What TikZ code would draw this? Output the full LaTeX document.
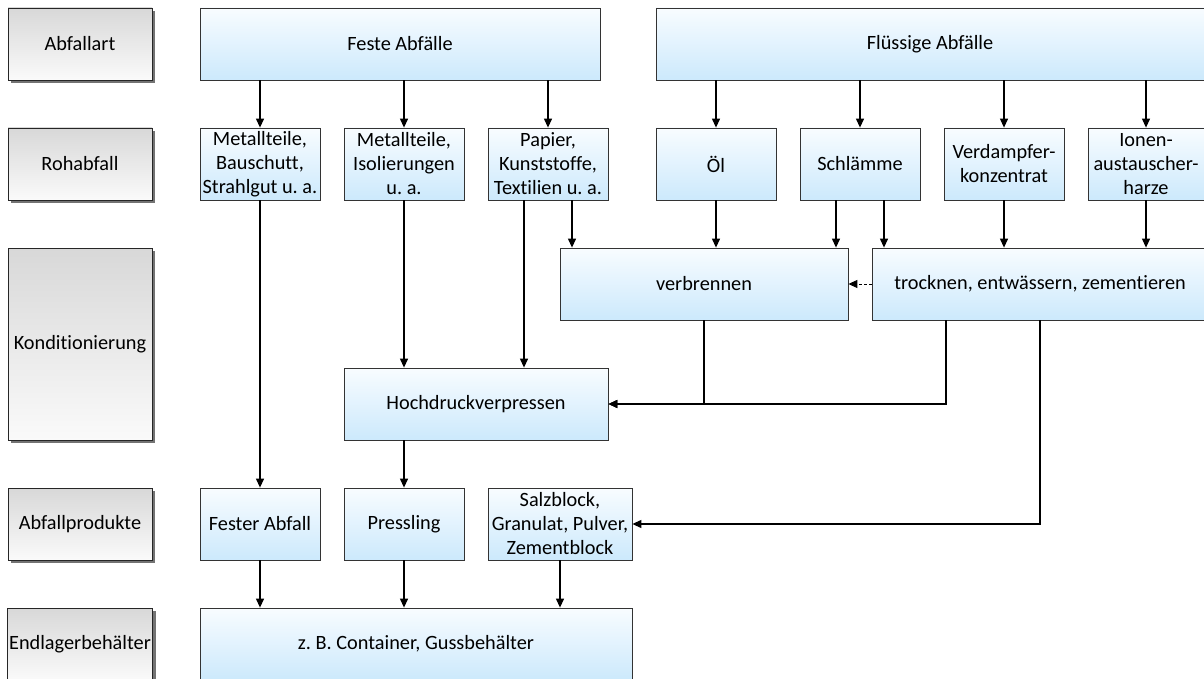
\documentclass[tikz,border=0pt]{standalone}
\usepackage{fontspec}
\setmainfont{Carlito}[Ligatures=NoCommon]
\frenchspacing
\usetikzlibrary{arrows.meta,shadows}
\definecolor{boxtop}{HTML}{F8FCFF}
\definecolor{boxbot}{HTML}{CCE9FC}
\definecolor{lbltop}{HTML}{D8D8D8}
\definecolor{lblbot}{HTML}{FAFAFA}
\tikzset{
  >={Triangle[length=9pt,width=8pt]},
  every node/.style={font=\fontsize{20.3}{24}\selectfont, align=center, inner sep=2pt},
  lbl/.style={draw=black!85, line width=0.8pt, top color=lbltop, bottom color=lblbot,
    minimum width=144pt, minimum height=72pt,
    drop shadow={shadow xshift=3pt, shadow yshift=-3pt, fill=black!55, opacity=1}},
  box/.style={draw=black!80, line width=0.8pt, top color=boxtop, bottom color=boxbot,
    minimum width=120pt, minimum height=72pt},
  flow/.style={->, line width=1.2pt},
}
\begin{document}
\begin{tikzpicture}[x=1pt,y=-1pt]
\useasboundingbox (0,0) rectangle (1204,679);
% left column
\node[lbl] (art) at (80,44) {Abfallart};
\node[lbl] (roh) at (80,164) {Rohabfall};
\node[lbl, minimum height=192pt] (kond) at (80,344) {Konditionierung};
\node[lbl] (prod) at (80,524) {Abfallprodukte};
\node[lbl] (endl) at (80,644) {Endlagerbehälter};
% waste types
\node[box, minimum width=400pt] (feste) at (400,44) {Feste Abfälle};
\node[box, minimum width=548pt] (fluessig) at (930,44) {Flüssige Abfälle};
% raw waste
\node[box] (metall) at (260,164) {Metallteile,\\Bauschutt,\\Strahlgut u. a.};
\node[box] (isol) at (404,164) {Metallteile,\\Isolierungen\\u. a.};
\node[box] (papier) at (548,164) {Papier,\\Kunststoffe,\\Textilien u. a.};
\node[box] (oel) at (716,164) {Öl};
\node[box] (schl) at (860,164) {Schlämme};
\node[box] (verd) at (1004,164) {Verdampfer-\\konzentrat};
\node[box, minimum width=116pt] (ionen) at (1146,164) {Ionen-\\austauscher-\\harze};
% conditioning
\node[box, minimum width=288pt] (verbr) at (704,284) {verbrennen};
\node[box, minimum width=336pt] (trock) at (1040,284) {trocknen, entwässern, zementieren};
\node[box, minimum width=264pt] (hoch) at (476,404) {Hochdruckverpressen};
% products
\node[box] (fester) at (260,524) {Fester Abfall};
\node[box] (press) at (404,524) {Pressling};
\node[box, minimum width=144pt] (salz) at (560,524) {Salzblock,\\Granulat, Pulver,\\Zementblock};
\node[box, minimum width=432pt] (cont) at (416,644) {z. B. Container, Gussbehälter};
% helper points on box edges
\coordinate (pa) at ([xshift=-24pt]papier.south);
\coordinate (pb) at ([xshift=24pt]papier.south);
\coordinate (sa) at ([xshift=-24pt]schl.south);
\coordinate (sb) at ([xshift=24pt]schl.south);
\coordinate (ta) at ([xshift=-94pt]trock.south);
% arrows
\draw[flow] (feste.south -| metall) -- (metall.north);
\draw[flow] (feste.south -| isol) -- (isol.north);
\draw[flow] (feste.south -| papier) -- (papier.north);
\draw[flow] (fluessig.south -| oel) -- (oel.north);
\draw[flow] (fluessig.south -| schl) -- (schl.north);
\draw[flow] (fluessig.south -| verd) -- (verd.north);
\draw[flow] (fluessig.south -| ionen) -- (ionen.north);
\draw[flow] (metall) -- (fester);
\draw[flow] (isol.south) -- (hoch.north -| isol);
\draw[flow] (pa) -- (hoch.north -| pa);
\draw[flow] (pb) -- (verbr.north -| pb);
\draw[flow] (oel.south) -- (verbr.north -| oel);
\draw[flow] (sa) -- (verbr.north -| sa);
\draw[flow] (sb) -- (trock.north -| sb);
\draw[flow] (verd.south) -- (trock.north -| verd);
\draw[flow] (ionen.south) -- (trock.north -| ionen);
\draw[->, line width=1pt, dash pattern=on 3pt off 2pt] (trock.west) -- (verbr.east);
\draw[flow] (verbr.south) |- (hoch.east);
\draw[flow] (ta) |- (hoch.east);
\draw[flow] (trock.south) |- (salz.east);
\draw[flow] (hoch.south -| press) -- (press.north);
\draw[flow] (fester.south) -- (cont.north -| fester);
\draw[flow] (press.south) -- (cont.north -| press);
\draw[flow] (salz.south) -- (cont.north -| salz);
\end{tikzpicture}
\end{document}
